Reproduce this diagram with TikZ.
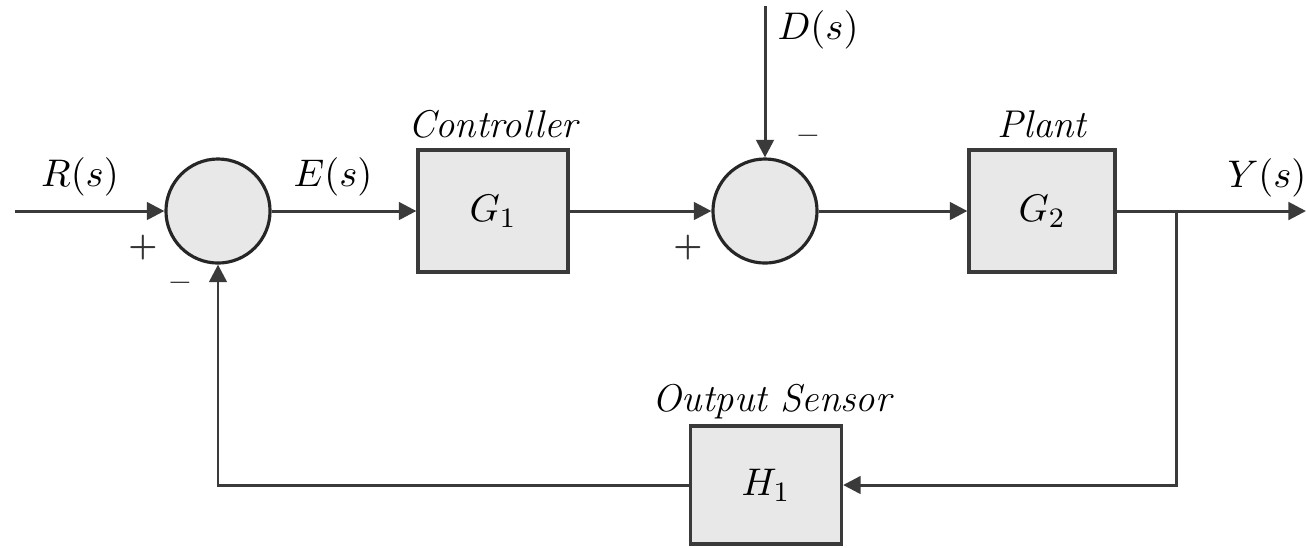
\documentclass[tikz,border=0pt]{standalone}
\usetikzlibrary{arrows.meta}

\begin{document}
\begin{tikzpicture}[x=0.01cm,y=-0.01cm,font=\itshape\fontsize{11}{13}\selectfont,
  blk/.style={draw=linegray,fill=blockgray,line width=0.9pt,rectangle,inner sep=0pt},
  sumnode/.style={draw=black!85,fill=blockgray,line width=0.9pt,circle,inner sep=0pt,minimum size=1.04cm},
  sig/.style={draw=linegray,line width=0.85pt,-{Triangle[length=5pt,width=5pt]}},
  sgn/.style={font=\upshape\bfseries\fontsize{9}{11}\selectfont,text=black!80}]
  \definecolor{blockgray}{HTML}{E8E8E8}
  \definecolor{linegray}{HTML}{3A3A3A}

  \useasboundingbox (0,0) rectangle (1306,547);

  % blocks
  \node[blk,minimum width=1.50cm,minimum height=1.22cm] (ctrl) at (493,211) {$G_1$};
  \node[sumnode] (sumA) at (218,211) {};
  \node[sumnode] (sumB) at (765,211) {};
  \node[blk,minimum width=1.46cm,minimum height=1.22cm] (plant) at (1042,211) {$G_2$};
  \node[blk,minimum width=1.51cm,minimum height=1.18cm] (sensor) at (766,485) {$H_1$};

  \coordinate (rin) at (15,211);
  \coordinate (dtop) at (765,6);
  \coordinate (branch) at (1176,211);
  \coordinate (yout) at (1306,211);

  % labels
  \node (lblR) at (80,177) {$R(s)$};
  \node (lblE) at (333,177) {$E(s)$};
  \node (lblCtrl) at (493,124) {Controller};
  \node (lblD) at (818,30) {$D(s)$};
  \node (lblPlant) at (1042,124) {Plant};
  \node (lblY) at (1267,178) {$Y(s)$};
  \node (lblSensor) at (772,402) {Output Sensor};
  \node[sgn] (pA) at (143,248) {+};
  \node[sgn] (mA) at (180,287) {–};
  \node[sgn] (pB) at (688,248) {+};
  \node[sgn] (mB) at (808,140) {–};

  % forward path
  \draw[sig] (rin) -- (sumA.west);
  \draw[sig] (sumA.east) -- (ctrl.west);
  \draw[sig] (ctrl.east) -- (sumB.west);
  \draw[sig] (dtop) -- (sumB.north);
  \draw[sig] (sumB.east) -- (plant.west);
  \draw[sig] (plant.east) -- (yout);
  % feedback path
  \draw[sig] (branch) |- (sensor.east);
  \draw[sig] (sensor.west) -| (sumA.south);
\end{tikzpicture}
\end{document}
